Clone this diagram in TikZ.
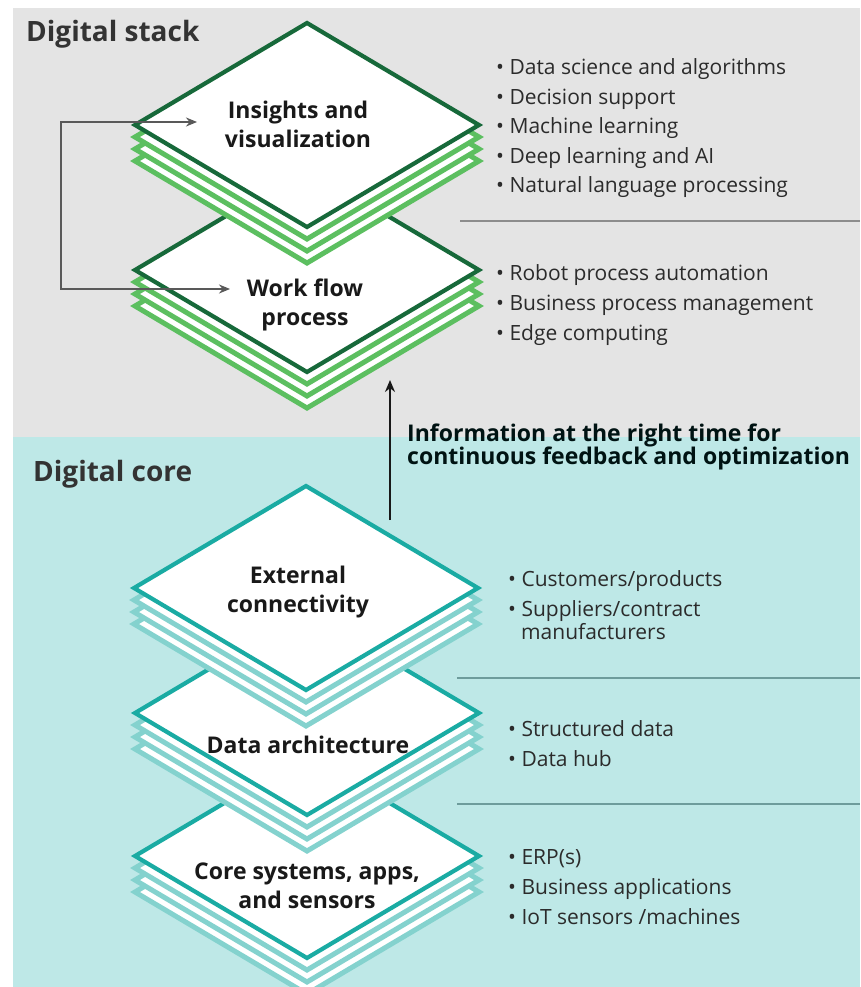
\documentclass[tikz,border=0pt]{standalone}
\usepackage{fontspec}
\setmainfont{Open Sans}
\usetikzlibrary{arrows.meta}
\definecolor{bggray}{HTML}{E4E4E4}
\definecolor{bgteal}{HTML}{BEE8E7}
\definecolor{dkgreen}{HTML}{17693A}
\definecolor{ltgreen}{HTML}{5CBF60}
\definecolor{dkteal}{HTML}{1AABA3}
\definecolor{ltteal}{HTML}{84D2CE}
\definecolor{txt}{HTML}{2B2B2B}
\definecolor{sepgray}{HTML}{8C8C8C}
\definecolor{septeal}{HTML}{6E9C9C}
\newcommand{\dstack}[4]{% cx, cy, main colour, layer colour
  \foreach \k in {3,2,1}{
    \draw[line width=5pt,#4,fill=white,line join=miter]
      (#1-172,#2+\k*12) -- (#1,#2-102+\k*12) -- (#1+172,#2+\k*12) -- (#1,#2+102+\k*12) -- cycle;
  }
  \draw[line width=4.2pt,#3,fill=white,line join=miter]
    (#1-172,#2) -- (#1,#2-102) -- (#1+172,#2) -- (#1,#2+102) -- cycle;
}
\tikzset{
  lbl/.style={align=center,inner sep=0pt,text=black!90,font=\bfseries\fontsize{23}{29}\selectfont},
  item/.style={anchor=base west,inner sep=0pt,text=txt,font=\fontsize{21}{24}\selectfont},
  head/.style={anchor=base west,inner sep=0pt,text=black!80,font=\bfseries\fontsize{28}{32}\selectfont},
  info/.style={anchor=base west,inner sep=0pt,text=black!85!teal,font=\bfseries\fontsize{23}{26}\selectfont},
  fb/.style={draw=black!65,line width=2.8pt,{Stealth[length=11pt,width=9pt]}-{Stealth[length=11pt,width=9pt]}},
  up/.style={draw=black!90,line width=2.4pt,-{Stealth[length=12pt,width=10pt]}},
}
\begin{document}
\begin{tikzpicture}[x=1pt,y=-1pt]
\useasboundingbox (0,0) rectangle (860,987);
% backgrounds
\fill[bggray] (13,8) rectangle (860,437);
\fill[bgteal] (13,437) rectangle (860,987);
% separators
\draw[sepgray,line width=1.5pt] (460,221) -- (860,221);
\draw[septeal,line width=1.5pt] (457,678) -- (860,678);
\draw[septeal,line width=1.5pt] (457,804) -- (860,804);
% stacks (bottom first)
\dstack{307}{270}{dkgreen}{ltgreen}
\dstack{307}{125}{dkgreen}{ltgreen}
\dstack{307}{856}{dkteal}{ltteal}
\dstack{307}{713}{dkteal}{ltteal}
\dstack{306}{588}{dkteal}{ltteal}
% labels
\node[lbl] (ins) at (298,124) {Insights and\\visualization};
\node[lbl] (wf) at (305,305) {Work flow\\process};
\node[lbl] (ext) at (298,592) {External\\connectivity};
\node[lbl] (dat) at (308,745) {Data architecture};
\node[lbl] (cor) at (307,886) {Core systems, apps,\\and sensors};
% headings
\node[head] (hs) at (26,42) {Digital stack};
\node[head] (hc) at (33,481) {Digital core};
% bullet lists
\foreach \t [count=\i] in {Data science and algorithms,Decision support,Machine learning,Deep learning and AI,Natural language processing}
  \node[item] (a\i) at (496,{75+(\i-1)*29.5}) {• \t};
\foreach \t [count=\i] in {Robot process automation,Business process management,Edge computing}
  \node[item] (b\i) at (496,{280+(\i-1)*30}) {• \t};
\node[item] (c1) at (508,586) {• Customers/products};
\node[item] (c2) at (508,616) {• Suppliers/contract};
\node[item] (c3) at (521,639) {manufacturers};
\node[item] (d1) at (508,736) {• Structured data};
\node[item] (d2) at (508,766) {• Data hub};
\foreach \t [count=\i] in {ERP(s),Business applications,IoT sensors /machines}
  \node[item] (e\i) at (508,{864+(\i-1)*30}) {• \t};
% info text
\node[info] (i1) at (407,441) {Information at the right time for};
\node[info] (i2) at (407,464) {continuous feedback and optimization};
% feedback loop
\coordinate (fbi) at (197,122);
\coordinate (fbw) at (230,289);
\coordinate (fbt) at (61,122);
\coordinate (fbb) at (61,289);
\draw[fb] (fbi) -- (fbt) -- (fbb) -- (fbw);
% upward arrow
\coordinate (ups) at (390,520);
\coordinate (upe) at (390,380);
\draw[up] (ups) -- (upe);
\end{tikzpicture}
\end{document}
